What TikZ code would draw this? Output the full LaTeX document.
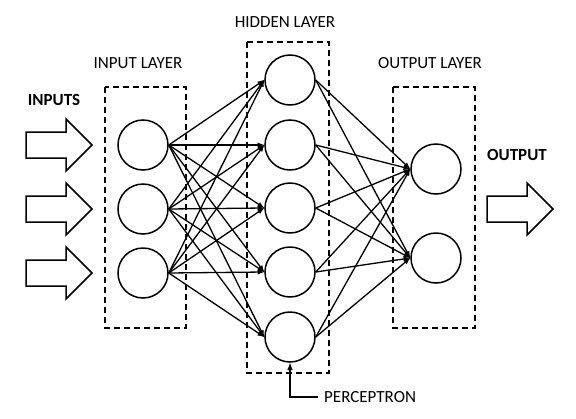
\documentclass[tikz,border=0pt]{standalone}
\usepackage{fontspec}
\setmainfont{Carlito}
\usepackage{tikz}
\usetikzlibrary{shapes,arrows,positioning,calc}

% block arrow, starting at the middle of its back edge
\newcommand{\fatarrow}[1]{%
  \draw[line width=1.5pt, line join=miter] #1 -- ++(0,-13) -- ++(40,0) -- ++(0,-13)
    -- ++(26,26) -- ++(-26,26) -- ++(0,-13) -- ++(-40,0) -- cycle;}

\begin{document}
\begin{tikzpicture}[x=1pt, y=-1pt,
    neuron/.style={circle, draw, line width=1.5pt, minimum size=50pt, inner sep=0pt},
    layerbox/.style={draw, line width=1.5pt, dash pattern=on 6pt off 4pt},
    conn/.style={line width=1.3pt, -latex},
    lbl/.style={font=\fontsize{17}{20}\selectfont, inner sep=0pt},
    blbl/.style={font=\fontsize{17}{20}\selectfont\bfseries, inner sep=0pt}]
    \useasboundingbox (0,0) rectangle (576,418);

    % Layer boxes
    \draw[layerbox] (105,87) rectangle (186,328);
    \draw[layerbox] (247,42) rectangle (329,373);
    \draw[layerbox] (393,87) rectangle (475,328);

    % Input layer
    \node[neuron] (in1) at (143,145) {};
    \node[neuron] (in2) at (143,209) {};
    \node[neuron] (in3) at (143,273) {};

    % Hidden layer
    \node[neuron] (hid1) at (290,80) {};
    \node[neuron] (hid2) at (290,145) {};
    \node[neuron] (hid3) at (290,208) {};
    \node[neuron] (hid4) at (290,272) {};
    \node[neuron] (hid5) at (290,337) {};

    % Output layer
    \node[neuron] (out1) at (436,169) {};
    \node[neuron] (out2) at (436,258) {};

    % Connections
    \foreach \i in {1,2,3}
        \foreach \j in {1,...,5}
            \draw[conn] (in\i.east) -- (hid\j.west);
    \foreach \j in {1,...,5}
        \foreach \k in {1,2}
            \draw[conn] (hid\j.east) -- (out\k.west);

    % Input and output arrows
    \fatarrow{(26,145)}
    \fatarrow{(26,209)}
    \fatarrow{(26,273)}
    \fatarrow{(487,209)}

    % Labels
    \node[blbl] (inputs) at (54,100) {INPUTS};
    \node[blbl] (output) at (517,155) {OUTPUT};
    \node[lbl] (inlbl) at (138,63) {INPUT LAYER};
    \node[lbl] (hidlbl) at (285,22) {HIDDEN LAYER};
    \node[lbl] (outlbl) at (430,63) {OUTPUT LAYER};
    \node[lbl, anchor=west] (perc) at (324,397) {PERCEPTRON};
    \draw[line width=1.5pt, -latex] ([xshift=-6pt]perc.west) -| (hid5.south);
\end{tikzpicture}
\end{document}
